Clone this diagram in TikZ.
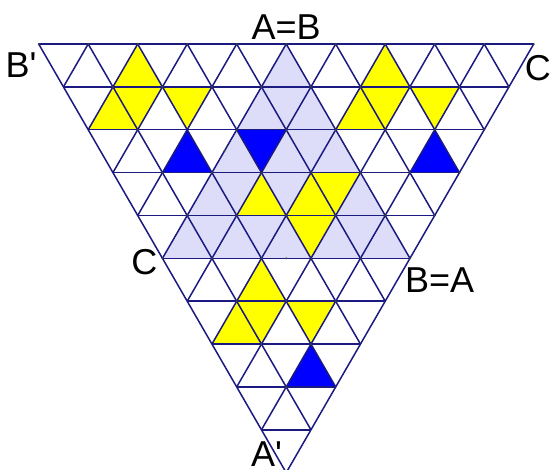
\documentclass[tikz,border=0pt]{standalone}
\usepackage{fontspec}
\setmainfont{Liberation Sans}
\usetikzlibrary{positioning, calc}
\definecolor{gridline}{HTML}{1A1A80}
\definecolor{hilite}{HTML}{FFFF00}
\definecolor{deepblue}{HTML}{0000FF}
\definecolor{region}{HTML}{DDDDFA}

% up triangle: apex (row, col), base on next row
\newcommand{\uptri}[3]{%
  \pgfmathtruncatemacro{\trirow}{#1+1}%
  \pgfmathtruncatemacro{\tricol}{#2-1}%
  \fill[#3] (v-#1-#2) -- (v-\trirow-\tricol) -- (v-\trirow-#2) -- cycle;}
% down triangle: base (row, col)-(row, col+1), tip on next row
\newcommand{\dntri}[3]{%
  \pgfmathtruncatemacro{\trirow}{#1+1}%
  \pgfmathtruncatemacro{\tricol}{#2+1}%
  \fill[#3] (v-#1-#2) -- (v-#1-\tricol) -- (v-\trirow-#2) -- cycle;}

\begin{document}
\begin{tikzpicture}[
    x=49.5pt, y=49.5pt,
    lattice/.style={draw=gridline, line width=1.5pt, line join=round},
    yel/.style={fill=hilite},
    blu/.style={fill=deepblue},
    vtx/.style={fill=black!75},
    lbl/.style={font=\fontsize{36}{40}\selectfont, inner sep=0pt}
  ]
  \useasboundingbox (-38.7pt,44pt) rectangle (512.3pt,-426pt);

  % lattice points
  \foreach \r in {0,...,10}{
    \pgfmathtruncatemacro{\n}{10-\r}
    \foreach \k in {0,...,\n}
      \coordinate (v-\r-\k) at (\k+\r/2, -\r*0.8660254);
  }

  % shaded region
  \fill[region] (v-0-5) -- (v-5-0) -- (v-5-5) -- cycle;

  % coloured cells
  \foreach \r/\j in {0/2, 1/1, 0/7, 1/6, 3/3, 3/4, 5/2, 6/1}
    \uptri{\r}{\j}{yel};
  \foreach \r/\j in {1/1, 1/2, 1/6, 1/7, 3/4, 4/3, 6/1, 6/2}
    \dntri{\r}{\j}{yel};
  \foreach \r/\j in {2/2, 2/7, 7/2}
    \uptri{\r}{\j}{blu};
  \dntri{2}{3}{blu};

  % lines
  \foreach \r in {0,...,9}{
    \pgfmathtruncatemacro{\n}{10-\r}
    \draw[lattice] (v-\r-0) -- (v-\r-\n);
  }
  \foreach \k in {0,...,9}{
    \pgfmathtruncatemacro{\n}{10-\k}
    \draw[lattice] (v-0-\k) -- (v-\n-\k);
  }
  \foreach \m in {1,...,10}
    \draw[lattice] (v-0-\m) -- (v-\m-0);

  % points
  \foreach \r/\ks in {0/{0,...,10}, 1/{1,...,9}, 2/{1,3,4,5,6,7,8}, 3/{1,...,7},
                      4/{1,...,6}, 5/{0,...,5}, 6/{1,2,3}, 7/{1,2}, 8/{1}}
    \foreach \k in \ks
      \fill[vtx] (v-\r-\k) circle (1.1pt);
  \fill[vtx] ($(v-0-5)!0.5!(v-5-0)$) circle (1.1pt);
  \fill[vtx] ($(v-0-5)!0.5!(v-5-5)$) circle (1.1pt);
  \fill[vtx] ($(v-5-0)!0.5!(v-5-5)$) circle (1.1pt);

  % labels
  \node[lbl, above=4pt of v-0-5] (ab) {A=B};
  \node[lbl, below left=9pt and 2pt of v-0-0] (bp) {B\textquotesingle};
  \node[lbl, anchor=north west] (c1) at ($(v-0-10)+(-9pt,-11pt)$) {C};
  \node[lbl, anchor=east] (c2) at ($(v-5-0)+(-5pt,-4pt)$) {C};
  \node[lbl, anchor=north west] (ba) at ($(v-5-5)+(-5pt,-9pt)$) {B=A};
  \node[lbl, anchor=south east] (ap) at ($(v-10-0)+(-4pt,6pt)$) {A\textquotesingle};
\end{tikzpicture}
\end{document}
